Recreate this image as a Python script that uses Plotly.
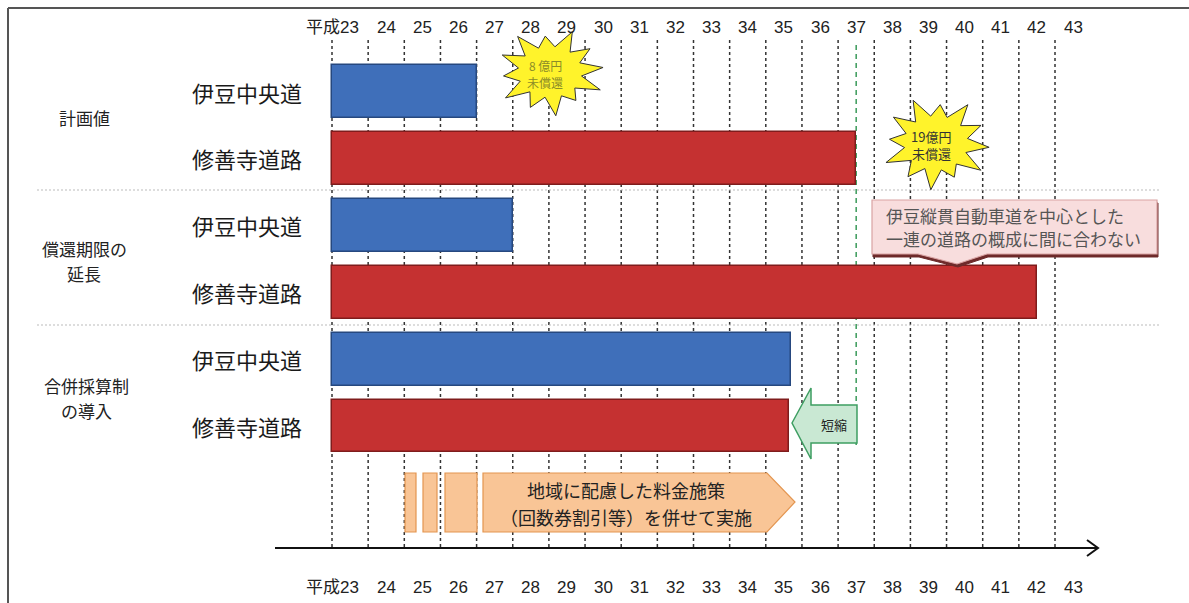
import numpy as np
import plotly.graph_objects as go

# ---------------- data ----------------
years = list(range(23, 44))                       # gridline years (start of each year)
year_labels = ["平成23"] + [str(y) for y in range(24, 44)]
row_labels = ["伊豆中央道", "修善寺道路", "伊豆中央道", "修善寺道路", "伊豆中央道", "修善寺道路"]
group_labels = [["計画値"], ["償還期限の", "延長"], ["合併採算制", "の導入"]]
bar_start = 23
bar_end = [27.0, 37.5, 28.0, 42.5, 35.7, 35.65]   # year at which each bar ends
bar_colors = ["#3F6FBA", "#C53131"] * 3
bar_lines = ["#26487F", "#7F1C1C"] * 3
target_year = 37.5                                 # green dashed line
star_texts = [["8 億円", "未償還"], ["19億円", "未償還"]]
callout_text = ["伊豆縦貫自動車道を中心とした", "一連の道路の概成に間に合わない"]
policy_text = ["地域に配慮した料金施策", "（回数券割引等）を併せて実施"]
short_text = "短縮"

# ---------------- geometry helpers ----------------
W, H = 1189, 603
PX0, STEP = 332.0, 36.15          # pixel of year 23 and pixels per year
XMIN = 23 - PX0 / STEP
XMAX = XMIN + W / STEP
R0, RSTEP = 91.5, 66.9            # pixel of row 0 and pixels per row
YTOP = -R0 / RSTEP
YBOT = (H - R0) / RSTEP

def px(x):
    return x / W

def py(y):
    return 1 - y / H

def path_px(points):
    return "M " + " L ".join(f"{px(x):.5f},{py(y):.5f}" for x, y in points) + " Z"

JP = "Noto Sans CJK JP, Noto Sans, sans-serif"
LAT = "Liberation Sans, Arial, Noto Sans CJK JP, sans-serif"

fig = go.Figure()
shapes = []
annotations = []

def text_px(x, y, t, size, color, family=JP, xanchor="center"):
    annotations.append(dict(xref="paper", yref="paper", x=px(x), y=py(y), text=t, showarrow=False,
                            xanchor=xanchor, yanchor="middle",
                            font=dict(family=family, size=size, color=color)))

# frame
shapes.append(dict(type="line", xref="paper", yref="paper", x0=px(8), x1=px(W), y0=py(8), y1=py(8),
                   line=dict(color="#555", width=2), layer="above"))
shapes.append(dict(type="line", xref="paper", yref="paper", x0=px(8), x1=px(8), y0=py(8), y1=py(H),
                   line=dict(color="#555", width=2), layer="above"))

# dashed year gridlines
for yv in years:
    shapes.append(dict(type="line", xref="x", yref="paper", x0=yv, x1=yv, y0=py(40), y1=py(548),
                       line=dict(color="#333", width=1.5, dash="3px,3px"), layer="below"))

# group separators
for ysep in (190, 325):
    shapes.append(dict(type="line", xref="paper", yref="paper", x0=px(37), x1=px(1160), y0=py(ysep), y1=py(ysep),
                       line=dict(color="#bbbbbb", width=1.2, dash="2px,2px"), layer="below"))

# green target line
shapes.append(dict(type="line", xref="x", yref="paper", x0=target_year, x1=target_year, y0=py(45), y1=py(445),
                   line=dict(color="#3A9A5A", width=1.5, dash="5px,4px"), layer="below"))

# bars
fig.add_trace(go.Bar(
    y=list(range(len(row_labels))),
    x=[e - bar_start for e in bar_end],
    base=bar_start,
    orientation="h",
    width=0.79,
    marker=dict(color=bar_colors, line=dict(color=bar_lines, width=1.5)),
    hoverinfo="skip",
    showlegend=False,
))

# year labels (top and bottom)
for i, lab in enumerate(year_labels):
    yv = years[i]
    for ypix in (27, 587):
        if i == 0:
            annotations.append(dict(xref="x", yref="paper", x=yv + 0.5 + 11 / STEP, y=py(ypix), text=lab,
                                    showarrow=False, xanchor="right", yanchor="middle",
                                    font=dict(family=LAT, size=17, color="#222")))
        else:
            annotations.append(dict(xref="x", yref="paper", x=yv + 0.5, y=py(ypix), text=lab,
                                    showarrow=False, xanchor="center", yanchor="middle",
                                    font=dict(family=LAT, size=17, color="#222")))

# row labels
for r, lab in enumerate(row_labels):
    annotations.append(dict(xref="paper", yref="y", x=px(247), y=r, text=lab, showarrow=False,
                            xanchor="center", yanchor="middle",
                            font=dict(family=JP, size=22, color="#1a1a1a")))

# group labels
for (gx, gys), lines in zip([(84, [117]), (84, [248, 273]), (86, [385, 410])], group_labels):
    for gy, ln in zip(gys, lines):
        text_px(gx, gy, ln, 17, "#222")

# axis arrow at bottom
shapes.append(dict(type="line", xref="paper", yref="paper", x0=px(275), x1=px(1097), y0=py(548), y1=py(548),
                   line=dict(color="#111", width=2), layer="above"))
shapes.append(dict(type="path", xref="paper", yref="paper",
                   path=f"M {px(1087)},{py(540)} L {px(1098)},{py(548)} L {px(1087)},{py(556)}",
                   line=dict(color="#111", width=2), layer="above"))

# orange policy blocks
for x0, x1 in [(405, 416), (423, 437), (445, 477)]:
    shapes.append(dict(type="path", xref="paper", yref="paper",
                       path=path_px([(x0, 473), (x1, 473), (x1, 532), (x0, 532)]),
                       fillcolor="#F9C596", line=dict(color="#E39550", width=1.2), layer="above"))
shapes.append(dict(type="path", xref="paper", yref="paper",
                   path=path_px([(483, 473), (767, 473), (795, 502), (767, 532), (483, 532)]),
                   fillcolor="#F9C596", line=dict(color="#E39550", width=1.2), layer="above"))
text_px(626, 490, policy_text[0], 18, "#222")
text_px(626, 517, policy_text[1], 18, "#222")

# green "shorten" arrow
shapes.append(dict(type="path", xref="paper", yref="paper",
                   path=path_px([(792, 423), (811, 388), (811, 405), (857, 405), (857, 443), (811, 443), (811, 459)]),
                   fillcolor="#C9E8D3", line=dict(color="#3E9E62", width=1.5), layer="above"))
text_px(834, 424, short_text, 13, "#222")

# callout box
callout_pts = [(872, 200), (1157, 200), (1157, 254), (987, 254), (957, 264), (918, 254), (872, 254)]
shapes.append(dict(type="path", xref="paper", yref="paper",
                   path=path_px([(x + 1, y + 3) for x, y in callout_pts]),
                   fillcolor="#6E2A2A", line=dict(color="#6E2A2A", width=1), layer="above"))
shapes.append(dict(type="path", xref="paper", yref="paper", path=path_px(callout_pts),
                   fillcolor="#F8DDDD", line=dict(color="#D9A3A3", width=1.2), layer="above"))
text_px(884, 215, callout_text[0], 17, "#555", xanchor="left")
text_px(884, 238, callout_text[1], 17, "#555", xanchor="left")

# starbursts
def star(cx, cy, rx, ry, rot):
    outer = [1.0, 0.82, 1.0, 0.9, 0.97, 1.0, 0.8, 1.0, 0.88, 1.0, 0.85, 0.95]
    n = len(outer)
    pts = []
    for k in range(n):
        a = rot + 2 * np.pi * k / n
        pts.append((cx + rx * outer[k] * np.cos(a), cy + ry * outer[k] * np.sin(a)))
        a2 = a + np.pi / n
        pts.append((cx + rx * 0.58 * np.cos(a2), cy + ry * 0.58 * np.sin(a2)))
    return pts

for (cx, cy, rx, ry, rot), lines, tcol, tsize in zip(
        [(550, 72, 55, 44, -2.2), (936, 143, 55, 47, -2.0)],
        star_texts, ["#8C8C28", "#333"], [12, 13]):
    shapes.append(dict(type="path", xref="paper", yref="paper", path=path_px(star(cx, cy, rx, ry, rot)),
                       fillcolor="#FFF32B", line=dict(color="#333", width=1), layer="above"))
    text_px(cx - 5, cy - 6, lines[0], tsize, tcol)
    text_px(cx - 5, cy + 10, lines[1], tsize, tcol)

fig.update_layout(
    width=W, height=H,
    margin=dict(l=0, r=0, t=0, b=0),
    paper_bgcolor="white", plot_bgcolor="white",
    xaxis=dict(range=[XMIN, XMAX], visible=False, fixedrange=True),
    yaxis=dict(range=[YBOT, YTOP], visible=False, fixedrange=True),
    shapes=shapes,
    annotations=annotations,
    bargap=0,
)

fig.write_html("out.html")
